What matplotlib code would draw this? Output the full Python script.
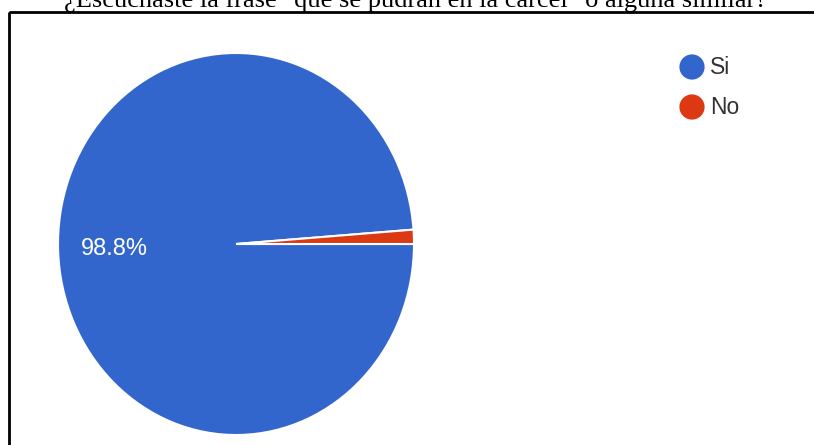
import matplotlib.pyplot as plt
from matplotlib.patches import Rectangle

title = '¿Escuchaste la frase "que se pudran en la cárcel" o alguna similar?'
labels = ["Si", "No"]
values = [98.8, 1.2]
colors = ["#3366CC", "#DC3912"]

W, H = 814, 445
fig = plt.figure(figsize=(W / 100, H / 100), dpi=100)

# pie axes: one data unit = pie radius, stretched a bit vertically like the original
cx, cy, rx, ry = 236, 244, 178, 191
ax = fig.add_axes([0, 0, 1, 1])
wedges, texts, autotexts = ax.pie(
    values,
    colors=colors,
    startangle=0,
    counterclock=False,
    autopct=lambda p: f"{p:.1f}%" if p > 5 else "",
    pctdistance=0.683,
    wedgeprops={"edgecolor": "white", "linewidth": 1.5},
    textprops={"color": "white", "fontsize": 17, "family": "Liberation Sans"},
)
ax.set_aspect("auto")
ax.set_xlim(-cx / rx, (W - cx) / rx)
ax.set_ylim(-(H - cy) / ry, cy / ry)
ax.axis("off")

# overlay in pixel coords for frame, title and legend
ov = fig.add_axes([0, 0, 1, 1], zorder=3)
ov.set_xlim(0, W)
ov.set_ylim(H, 0)
ov.axis("off")
ov.add_patch(Rectangle((8.8, 12), 900, 500, fill=False, edgecolor="black", linewidth=2))
ov.text(415, 7.5, title, ha="center", va="baseline", fontsize=19,
        family="Liberation Serif", color="black")

for i, (lab, col) in enumerate(zip(labels, colors)):
    y = 67 + 40 * i
    ov.scatter([692], [y], s=330, color=col, edgecolors="none")
    ov.text(710, y, lab, ha="left", va="center", fontsize=16.5,
            family="Liberation Sans", color="#333333")

fig.savefig("out.png", dpi=100)
